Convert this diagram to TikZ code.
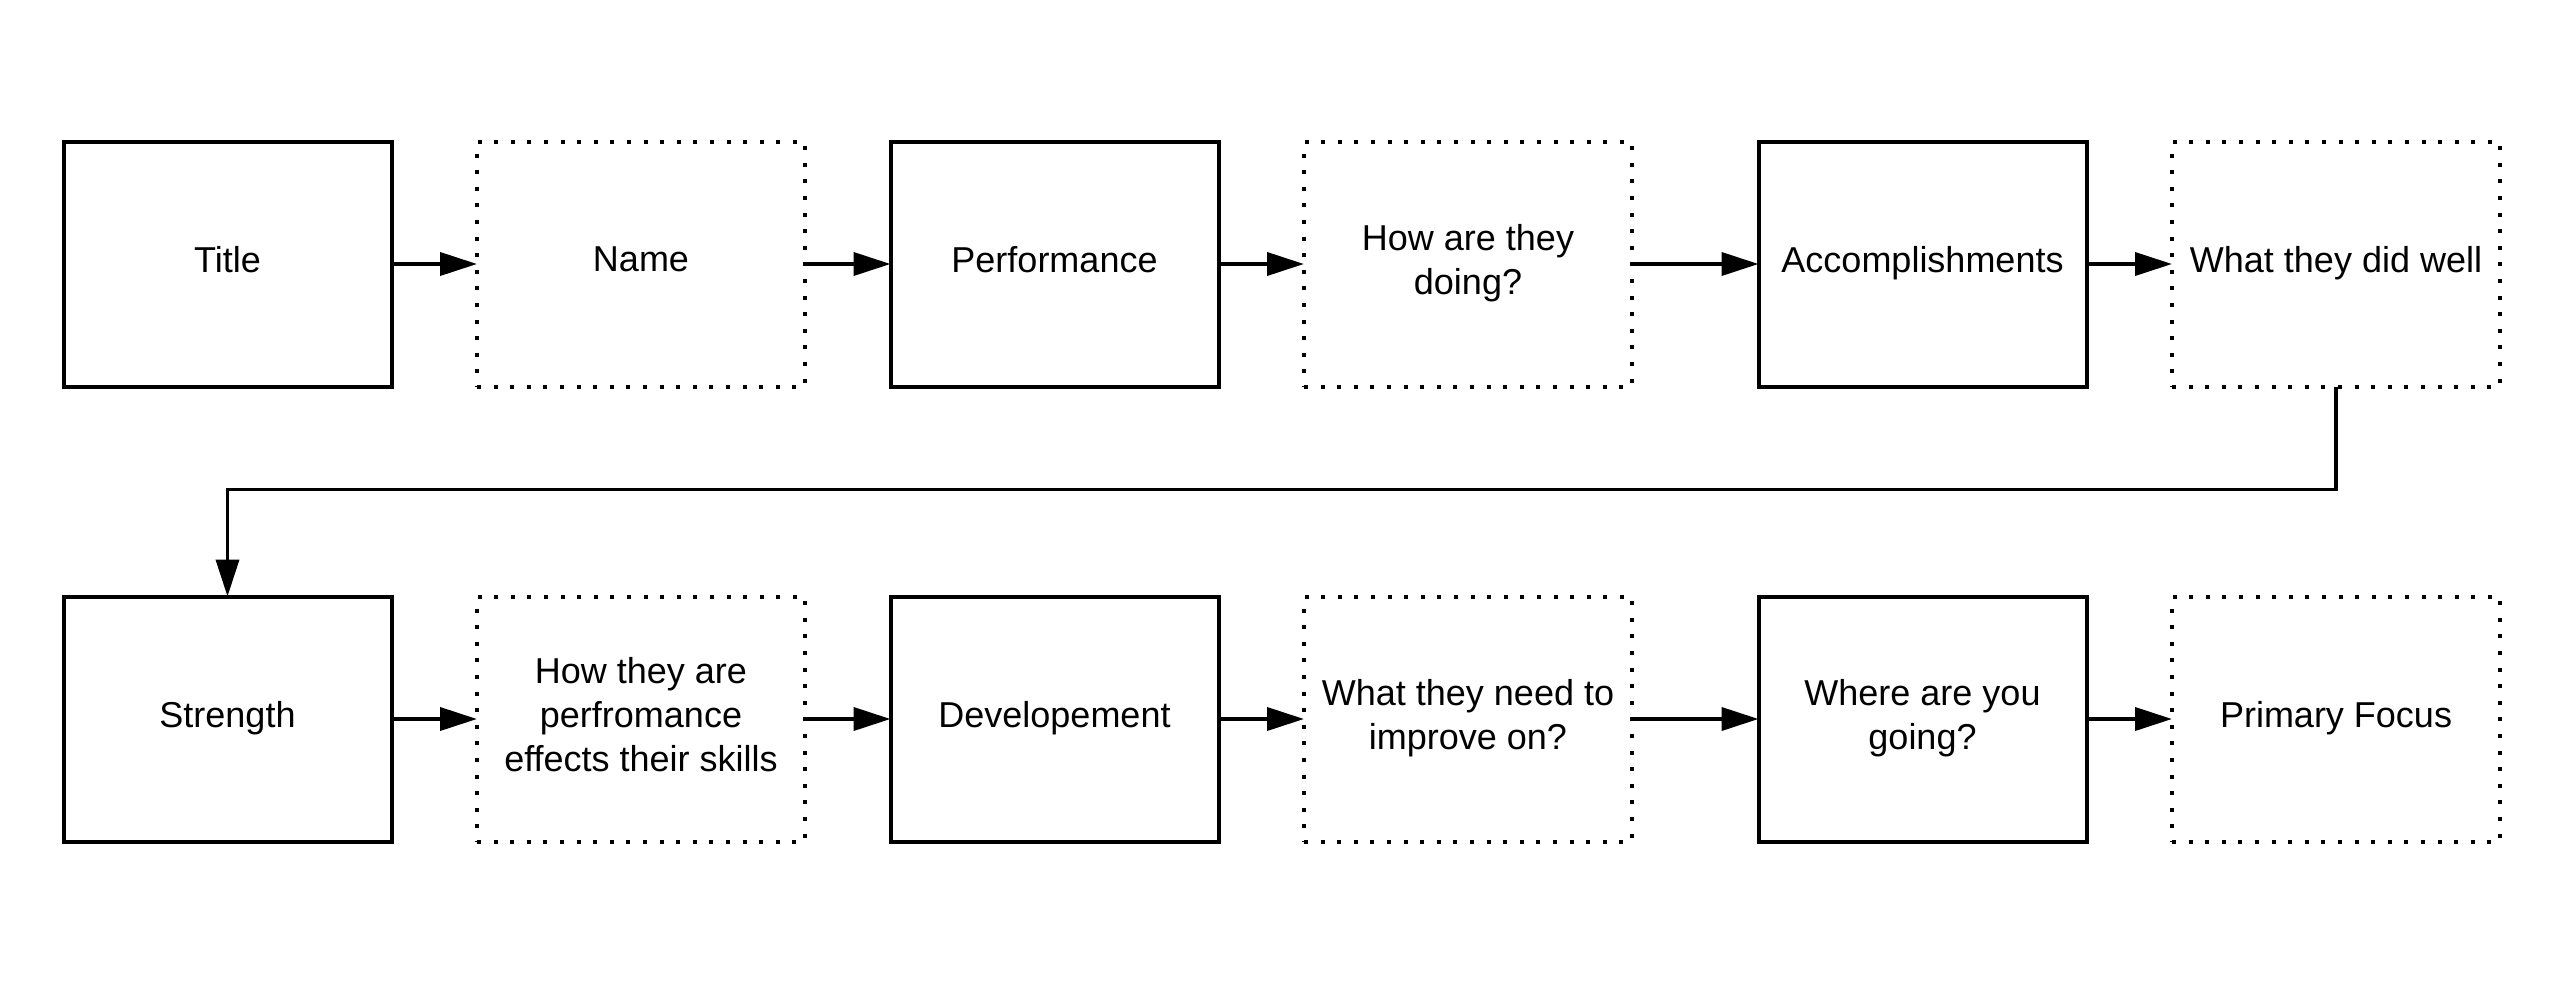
\documentclass[tikz,border=0pt]{standalone}
\usepackage{fontspec}
\setmainfont{Liberation Sans}
\usetikzlibrary{positioning,arrows.meta}

\begin{document}
\begin{tikzpicture}[x=1pt,y=1pt,
    solidbox/.style={draw, line width=4pt, outer sep=0pt, inner sep=0pt,
      minimum width=328pt, minimum height=245pt, align=center, text depth=9pt,
      font=\fontsize{36}{44}\selectfont},
    dotbox/.style={solidbox, dash pattern=on 4pt off 12.6pt},
    flow/.style={line width=3.8pt, -{Triangle[length=37pt,width=23pt]}}]
  \useasboundingbox (0,0) rectangle (2558,-990);
  % top row
  \node[solidbox] (title) at (227.5,-264) {Title};
  \node[dotbox, right=85.5pt of title] (name) {Name};
  \node[solidbox, right=85.5pt of name] (perf) {Performance};
  \node[dotbox, right=85.5pt of perf] (doing) {How are they\\doing?};
  \node[solidbox, right=126.5pt of doing] (accomp) {Accomplishments};
  \node[dotbox, right=85.5pt of accomp] (well) {What they did well};
  % bottom row
  \node[solidbox, below=210pt of title] (strength) {Strength};
  \node[dotbox, right=85.5pt of strength] (skills) {How they are\\perfromance\\effects their skills};
  \node[solidbox, right=85.5pt of skills] (devel) {Developement};
  \node[dotbox, right=85.5pt of devel] (improve) {What they need to\\improve on?};
  \node[solidbox, right=126.5pt of improve] (going) {Where are you\\going?};
  \node[dotbox, right=85.5pt of going] (focus) {Primary Focus};
  % arrows
  \draw[flow] (title) -- (name);
  \draw[flow] (name) -- (perf);
  \draw[flow] (perf) -- (doing);
  \draw[flow] (doing) -- (accomp);
  \draw[flow] (accomp) -- (well);
  \draw[flow] (well.south) -- ++(0,-103) -| (strength.north);
  \draw[flow] (strength) -- (skills);
  \draw[flow] (skills) -- (devel);
  \draw[flow] (devel) -- (improve);
  \draw[flow] (improve) -- (going);
  \draw[flow] (going) -- (focus);
\end{tikzpicture}
\end{document}
